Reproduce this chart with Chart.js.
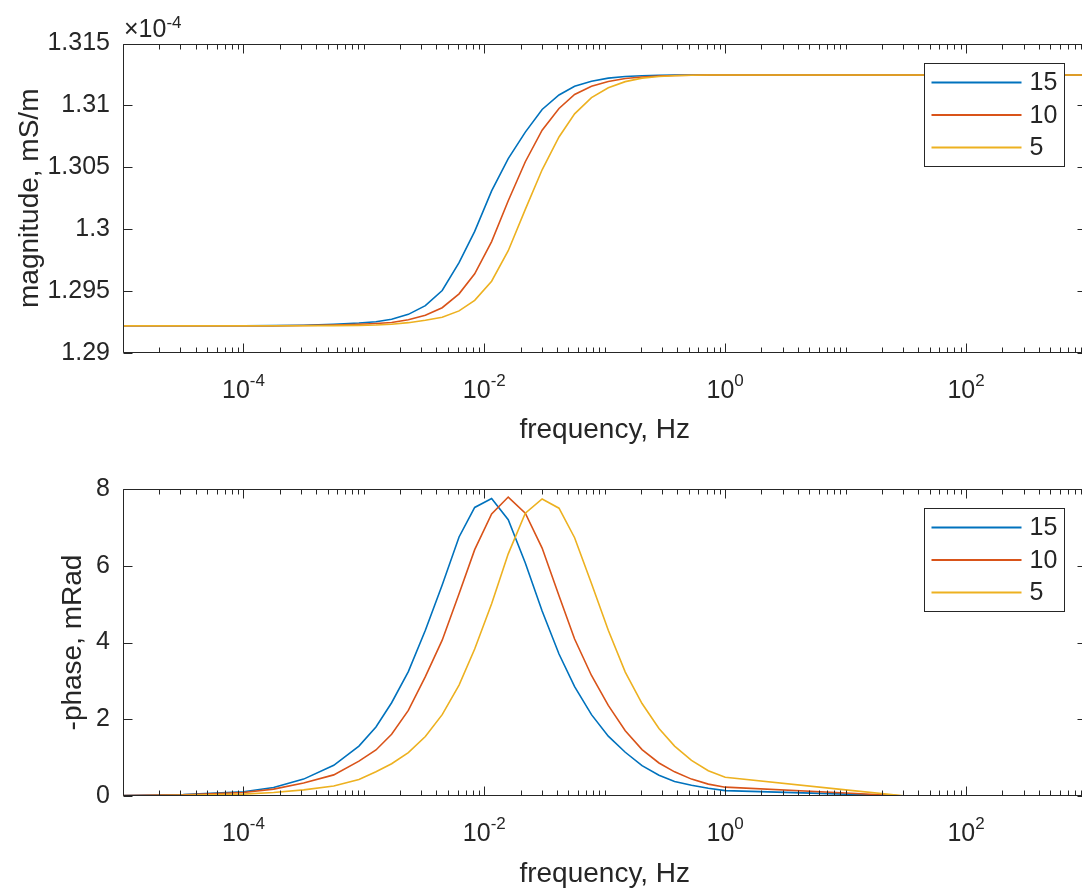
<!DOCTYPE html>
<html>
<head>
<meta charset="utf-8">
<title>magnitude / phase vs frequency</title>
<script src="https://cdn.jsdelivr.net/npm/chart.js@4.4.1/dist/chart.umd.min.js"></script>
<style>
  html, body { margin: 0; padding: 0; background: #fff; overflow: hidden; }
  #wrap { position: relative; width: 1082px; height: 888px; overflow: hidden; }
  canvas { position: absolute; left: 0; }
  #magChart { top: 0; }
  #phaseChart { top: 444px; }
</style>
</head>
<body>
<div id="wrap">
  <canvas id="magChart" width="1090" height="444"></canvas>
  <canvas id="phaseChart" width="1090" height="444"></canvas>
</div>
<script>
// frequencies (Hz), shared by all curves
const frequency = [1e-5, 3.16e-5, 1e-4, 1.78e-4, 3.16e-4, 5.62e-4, 9.1e-4, 1.26e-3, 1.7e-3, 2.34e-3,
  3.24e-3, 4.47e-3, 6.17e-3, 8.32e-3, 1.15e-2, 1.58e-2, 2.19e-2, 3.02e-2, 4.17e-2, 5.62e-2,
  7.76e-2, 0.107, 0.148, 0.204, 0.282, 0.38, 0.525, 0.724, 1, 10, 31.6, 1000];

const seriesNames = ['15', '10', '5'];
const seriesColors = ['#0072BD', '#D95319', '#EDB120'];

// magnitude, in units of 1e-4 mS/m
const magnitude15 = [1.2922, 1.2922, 1.2922, 1.29221, 1.29224, 1.29232, 1.29242, 1.29252, 1.29272, 1.29312,
  1.29382, 1.29505, 1.2973, 1.29982, 1.3031, 1.3057, 1.30784, 1.30967, 1.31084, 1.31155,
  1.31195, 1.3122, 1.31234, 1.3124, 1.31243, 1.31245, 1.31245, 1.31245, 1.31245, 1.31245, 1.31245, 1.31245];
const magnitude10 = [1.2922, 1.2922, 1.2922, 1.2922, 1.29222, 1.29226, 1.29232, 1.29238, 1.29246, 1.29268,
  1.29305, 1.29366, 1.29478, 1.2964, 1.299, 1.3023, 1.30545, 1.308, 1.30975, 1.31088,
  1.31154, 1.31193, 1.31217, 1.3123, 1.31238, 1.31242, 1.31244, 1.31245, 1.31245, 1.31245, 1.31245, 1.31245];
const magnitude5 = [1.2922, 1.2922, 1.2922, 1.2922, 1.2922, 1.29221, 1.29223, 1.29226, 1.29232, 1.29245,
  1.29264, 1.29288, 1.2934, 1.29425, 1.2958, 1.29826, 1.3016, 1.3048, 1.30745, 1.30932,
  1.31063, 1.31143, 1.31192, 1.3122, 1.31234, 1.3124, 1.31243, 1.31245, 1.31245, 1.31245, 1.31245, 1.31245];

// -phase, mRad
const phase15 = [0.01, 0.04, 0.11, 0.22, 0.44, 0.8, 1.3, 1.8, 2.43, 3.24,
  4.32, 5.5, 6.75, 7.52, 7.75, 7.2, 6.07, 4.82, 3.7, 2.85,
  2.12, 1.56, 1.14, 0.79, 0.54, 0.38, 0.28, 0.2, 0.14, 0.05, 0, 0];
const phase10 = [0.01, 0.03, 0.09, 0.18, 0.34, 0.55, 0.91, 1.2, 1.61, 2.23,
  3.11, 4.06, 5.27, 6.42, 7.35, 7.79, 7.37, 6.46, 5.22, 4.09,
  3.14, 2.36, 1.7, 1.21, 0.86, 0.63, 0.44, 0.31, 0.23, 0.08, 0, 0];
const phase5 = [0, 0.02, 0.05, 0.09, 0.16, 0.26, 0.43, 0.63, 0.84, 1.13,
  1.55, 2.12, 2.89, 3.83, 5.01, 6.31, 7.37, 7.74, 7.5, 6.73,
  5.54, 4.32, 3.23, 2.41, 1.76, 1.3, 0.93, 0.66, 0.49, 0.16, 0, 0];

// labelled decades on the frequency axis
const decadeLabels = [-4, -2, 0, 2];

const TEXT = '#262626';
const FONT = '"Liberation Sans", Arial, Helvetica, sans-serif';

// box, inward ticks, 10^n labels, multiplier and legend drawn the matlab way
const matlabBox = {
  id: 'matlabBox',
  afterDatasetsDraw(chart, args, opts) {
    const ctx = chart.ctx;
    const a = chart.chartArea;
    const x = chart.scales.x;
    const y = chart.scales.y;
    const L = Math.round(a.left) + 0.5;
    const R = Math.round(a.right) - 0.5;
    const T = Math.round(a.top) + 0.5;
    const B = Math.round(a.bottom) - 0.5;

    ctx.save();
    ctx.strokeStyle = TEXT;
    ctx.lineWidth = 1;
    ctx.beginPath();
    ctx.rect(L, T, R - L, B - T);
    x.ticks.forEach(t => {
      const px = Math.round(x.getPixelForValue(t.value)) + 0.5;
      const len = t.major ? 9 : 5;
      ctx.moveTo(px, B); ctx.lineTo(px, B - len);
      ctx.moveTo(px, T); ctx.lineTo(px, T + len);
    });
    y.ticks.forEach(t => {
      const py = Math.round(y.getPixelForValue(t.value)) + 0.5;
      ctx.moveTo(L, py); ctx.lineTo(L + 9, py);
      ctx.moveTo(R, py); ctx.lineTo(R - 9, py);
    });
    ctx.stroke();

    // 10^n tick labels
    ctx.fillStyle = TEXT;
    ctx.textAlign = 'left';
    ctx.textBaseline = 'alphabetic';
    decadeLabels.forEach(n => {
      const px = x.getPixelForValue(Math.pow(10, n));
      ctx.font = '25px ' + FONT;
      const w1 = ctx.measureText('10').width;
      ctx.font = '17px ' + FONT;
      const w2 = ctx.measureText(String(n)).width;
      const x0 = px - (w1 + w2) / 2;
      ctx.font = '25px ' + FONT;
      ctx.fillText('10', x0, a.bottom + 45);
      ctx.font = '17px ' + FONT;
      ctx.fillText(String(n), x0 + w1, a.bottom + 33);
    });

    // axis multiplier, e.g. x10^-4
    if (opts.multiplier) {
      let cx = a.left + 1;
      ctx.font = '25px ' + FONT;
      ctx.fillText('\u00d710', cx, a.top - 7);
      cx += ctx.measureText('\u00d710').width;
      ctx.font = '17px ' + FONT;
      ctx.fillText(opts.multiplier, cx, a.top - 16);
    }

    // legend box in the upper right corner
    const bw = 140, bh = 103;
    const bx = Math.round(a.right - 23 - bw) + 0.5;
    const by = Math.round(a.top + 19) + 0.5;
    ctx.fillStyle = '#fff';
    ctx.fillRect(bx, by, bw, bh);
    ctx.strokeStyle = TEXT;
    ctx.strokeRect(bx, by, bw, bh);
    ctx.font = '25px ' + FONT;
    ctx.textBaseline = 'middle';
    chart.data.datasets.forEach((ds, i) => {
      const ry = by + 19 + i * 32.5;
      ctx.strokeStyle = ds.borderColor;
      ctx.lineWidth = 2;
      ctx.beginPath();
      ctx.moveTo(bx + 7, ry);
      ctx.lineTo(bx + 97, ry);
      ctx.stroke();
      ctx.fillStyle = TEXT;
      ctx.fillText(ds.label, bx + 105, ry + 1);
    });
    ctx.restore();
  }
};

function minorDecadeTicks(scale) {
  const ticks = [];
  for (let k = -5; k <= 2; k++) {
    for (let m = 1; m <= 9; m++) {
      ticks.push({ value: m * Math.pow(10, k), major: m === 1 && decadeLabels.includes(k) });
    }
  }
  ticks.push({ value: 1000, major: false });
  scale.ticks = ticks;
}

function makeChart(id, series, yTitle, yScale, padTop, xHeight, titlePad, multiplier) {
  const ctx = document.getElementById(id).getContext('2d');
  return new Chart(ctx, {
    type: 'line',
    data: {
      datasets: series.map((values, i) => ({
        label: seriesNames[i],
        data: frequency.map((f, j) => ({ x: f, y: values[j] })),
        borderColor: seriesColors[i],
        backgroundColor: seriesColors[i],
        borderWidth: 1.6,
        pointRadius: 0,
        tension: 0,
        fill: false,
        order: -i   // later curves on top, like matlab
      }))
    },
    options: {
      responsive: false,
      animation: false,
      devicePixelRatio: 1,
      layout: { padding: { left: 0, right: 3.5, top: padTop, bottom: 0 } },
      plugins: {
        legend: { display: false },
        tooltip: { enabled: false },
        matlabBox: { multiplier: multiplier }
      },
      scales: {
        x: {
          type: 'logarithmic',
          min: 1e-5,
          max: 1e3,
          grid: { display: false },
          border: { display: false },
          ticks: { display: false },
          afterBuildTicks: minorDecadeTicks,
          afterFit: scale => { scale.height = xHeight; },
          title: {
            display: true,
            text: 'frequency, Hz',
            color: TEXT,
            font: { family: FONT, size: 28, lineHeight: 1 },
            padding: { top: 0, bottom: 0 }
          }
        },
        y: Object.assign({
          grid: { display: false, drawTicks: false },
          border: { display: false },
          afterFit: scale => { scale.width = 123; },
          title: {
            display: true,
            text: yTitle,
            color: TEXT,
            font: { family: FONT, size: 28, lineHeight: 1 },
            padding: { top: titlePad, bottom: 0 }
          }
        }, yScale)
      }
    },
    plugins: [matlabBox]
  });
}

// top: magnitude
makeChart('magChart', [magnitude15, magnitude10, magnitude5], 'magnitude, mS/m', {
  min: 1.29,
  max: 1.315,
  ticks: {
    stepSize: 0.005,
    padding: 13,
    color: TEXT,
    font: { family: FONT, size: 25 },
    callback: v => String(Number(v.toFixed(3)))
  }
}, 43.5, 91, 16, '-4');

// bottom: phase
makeChart('phaseChart', [phase15, phase10, phase5], '-phase, mRad', {
  min: 0,
  max: 8,
  ticks: {
    stepSize: 2,
    padding: 13,
    color: TEXT,
    font: { family: FONT, size: 25 }
  }
}, 45, 92, 59, null);
</script>
</body>
</html>
